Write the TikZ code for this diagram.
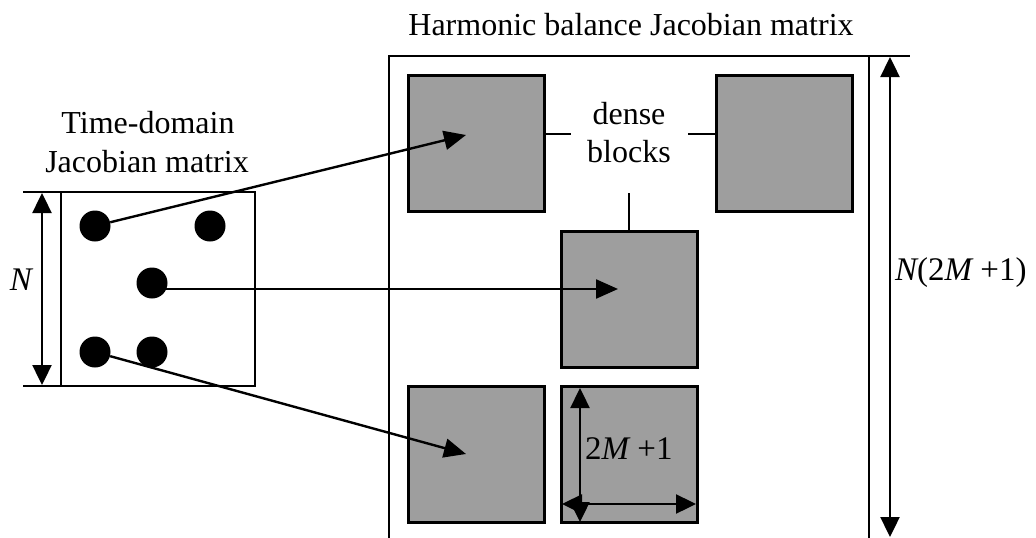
\documentclass[tikz,border=0pt]{standalone}
\usepackage{fontspec}
\setmainfont{Liberation Serif}
\usetikzlibrary{arrows.meta}
\definecolor{blockgray}{gray}{0.62}
\begin{document}
\begin{tikzpicture}[x=1pt,y=-1pt,
  blk/.style={draw, line width=3pt, fill=blockgray, minimum width=136pt,
    minimum height=136pt, inner sep=0pt, outer sep=0pt, anchor=north west},
  spot/.style={circle, fill=black, minimum size=31pt, inner sep=0pt},
  lbl/.style={font=\fontsize{32}{38}\selectfont, inner sep=0pt},
  frameline/.style={line width=2.6pt},
  pointer/.style={-{Triangle[length=22pt,width=19pt]}, line width=2.4pt},
  dimarrow/.style={{Triangle[length=20pt,width=19pt]}-{Triangle[length=20pt,width=19pt]},
    line width=2.4pt},
  leader/.style={line width=2.4pt}]
\useasboundingbox (0,0) rectangle (1036,538);

% ---- harmonic balance Jacobian (large matrix) ----
\node[lbl, anchor=base] (hbtitle) at (631,35) {Harmonic balance Jacobian matrix};
\draw[frameline] (389,538) -- (389,56) -- (910,56);
\draw[frameline] (869,56) -- (869,538);
\coordinate (hbtop) at (890,57);
\coordinate (hbbot) at (890,537);
\draw[dimarrow] (hbbot) -- (hbtop);
\node[lbl, anchor=base west, font=\fontsize{33}{38}\selectfont] (hbsize) at (895,280)
  {\itshape N\upshape(2\itshape M\upshape\ +1)};

% dense blocks
\node[blk] (b1) at (408,75) {};
\node[blk] (b2) at (716,75) {};
\node[blk] (b3) at (561,231) {};
\node[blk] (b4) at (408,386) {};
\node[blk] (b5) at (561,386) {};

\node[lbl, anchor=base] (dense) at (629,124) {dense};
\node[lbl, anchor=base] (blocks) at (629,162) {blocks};
\coordinate (lA) at (571,134);
\coordinate (lB) at (688,134);
\coordinate (lC) at (629,193);
\draw[leader] (b1.east |- lA) -- (lA);
\draw[leader] (lB) -- (b2.west |- lB);
\draw[leader] (lC) -- (b3.north -| lC);

% block size inside the lower middle block
\coordinate (vtop) at (580,388);
\coordinate (vbot) at (580,522);
\coordinate (hleft) at (562,504);
\coordinate (hright) at (696,504);
\draw[dimarrow] (vbot) -- (vtop);
\draw[leader, -{Triangle[length=20pt,width=19pt]}] (vtop |- hleft) -- (hright);
\draw[leader, -{Triangle[length=20pt,width=19pt]}] (vtop |- hleft) -- (hleft);
\node[lbl, anchor=base west, font=\fontsize{33}{38}\selectfont] (bsize) at (585,459)
  {2\itshape M\upshape\ +1};

% ---- time-domain Jacobian (small matrix) ----
\node[lbl, anchor=base] (tdtitle1) at (148,133) {Time-domain};
\node[lbl, anchor=base] (tdtitle2) at (147,172) {Jacobian matrix};
\node[draw, frameline, minimum width=194pt, minimum height=194pt, inner sep=0pt,
  outer sep=0pt, anchor=north west] (td) at (61,192) {};
\coordinate (ntop) at (23,192);
\coordinate (nbot) at (23,386);
\draw[frameline] (ntop) -- (td.north west);
\draw[frameline] (nbot) -- (td.south west);
\coordinate (nat) at (42,193);
\coordinate (nab) at (42,385);
\draw[dimarrow] (nab) -- (nat);
\node[lbl, anchor=base, font=\fontsize{33}{38}\selectfont] (nlabel) at (21,290) {\itshape N};

% arrow targets inside the blocks
\coordinate (t1) at (466,135);
\coordinate (t3) at (618,289);
\coordinate (t4) at (466,454);

% nonzero entries and the blocks they expand into
\node[spot] (d1) at (95,226) {};
\node[spot] (d2) at (210,226) {};
\node[spot] (d3) at (152,283) {};
\node[spot] (d4) at (95,352) {};
\node[spot] (d5) at (152,352) {};
\draw[pointer] (d1) -- (t1);
\draw[pointer] (d3.center |- t3) ++(10,0) -- (t3);
\draw[pointer] (d4) -- (t4);
\end{tikzpicture}
\end{document}
